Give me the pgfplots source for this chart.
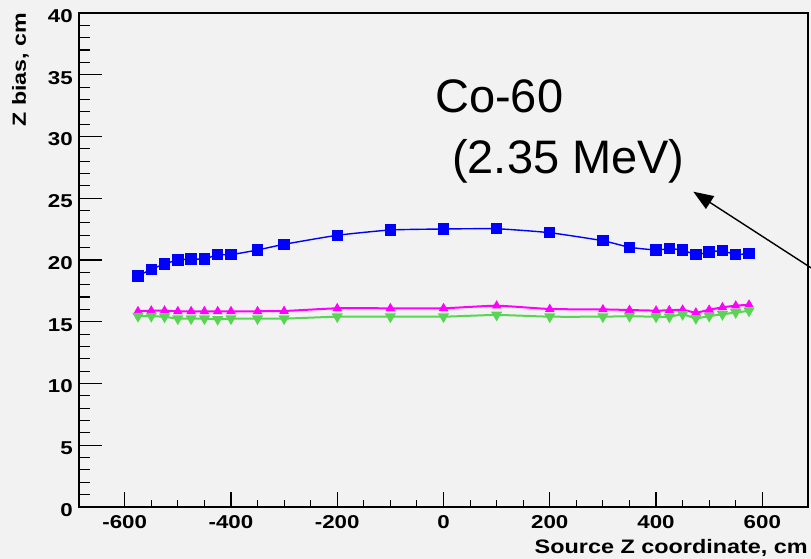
\documentclass[border=0pt]{standalone}
\usepackage{fontspec}
\setmainfont{Liberation Sans}
\usepackage{pgfplots}
\pgfplotsset{compat=1.18}
\usetikzlibrary{arrows.meta}
\definecolor{bg}{HTML}{F2F2F2}
\definecolor{rblue}{HTML}{0000FF}
\definecolor{rmag}{HTML}{FF00FF}
\definecolor{rgreen}{HTML}{59D454}
\newcommand{\tfont}{\fontsize{18.6}{20}\selectfont\bfseries}
\begin{document}
\begin{tikzpicture}
\fill[bg] (-79pt,-52pt) rectangle (732pt,507pt);
\begin{axis}[
  scale only axis, width=729pt, height=494pt,
  at={(0pt,0pt)}, anchor=south west,
  xmin=-686, xmax=686, ymin=0, ymax=40,
  axis line style={line width=1.2pt, black},
  tick align=inside, tick pos=left,
  xtick={-600,-400,...,600}, ytick={0,5,...,40},
  minor x tick num=3, minor y tick num=4,
  xtick style={line width=1.1pt, black, /pgfplots/major tick length=14.7pt, /pgfplots/minor tick length=7.3pt},
  ytick style={line width=1.1pt, black, /pgfplots/major tick length=22.7pt, /pgfplots/minor tick length=11.3pt},
  /pgf/number format/assume math mode=true,
  xticklabel={\scalebox{1.2}[1]{\tfont\pgfmathprintnumber{\tick}}},
  yticklabel={\scalebox{1.2}[1]{\tfont\pgfmathprintnumber{\tick}}},
  xticklabel style={anchor=north, inner sep=0pt},
  yticklabel style={anchor=east, inner sep=0pt, yshift=-3pt},
  xticklabel shift=8pt, yticklabel shift=6pt,
  axis background/.style={fill=bg},
]
\addplot[rblue, line width=1.4pt, smooth, tension=0.3, mark=square*, mark size=5pt, mark options={solid, fill=rblue}] coordinates {
(-575,18.70) (-550,19.25) (-525,19.68) (-500,20.00) (-475,20.08) (-450,20.08) (-425,20.43) (-400,20.43) (-350,20.81) (-300,21.27) (-200,22.00) (-100,22.43) (0,22.51) (100,22.53) (200,22.21) (300,21.56) (350,21.03) (400,20.81) (425,20.91) (450,20.81) (475,20.43) (500,20.65) (525,20.75) (550,20.43) (575,20.54)};
\addplot[rmag, line width=2pt, smooth, tension=0.3, mark=triangle*, mark size=3.5pt, mark options={solid, fill=rmag}] coordinates {
(-575,15.85) (-550,15.90) (-525,15.90) (-500,15.85) (-475,15.85) (-450,15.85) (-425,15.85) (-400,15.85) (-350,15.85) (-300,15.87) (-200,16.09) (-100,16.09) (0,16.09) (100,16.30) (200,16.03) (300,16.00) (350,15.95) (400,15.90) (425,15.93) (450,15.97) (475,15.74) (500,15.97) (525,16.17) (550,16.30) (575,16.38)};
\addplot[rgreen, line width=2pt, smooth, tension=0.3, mark=triangle*, mark size=4.5pt, mark options={solid, fill=rgreen, rotate=180}] coordinates {
(-575,15.45) (-550,15.45) (-525,15.40) (-500,15.25) (-475,15.25) (-450,15.25) (-425,15.20) (-400,15.25) (-350,15.25) (-300,15.25) (-200,15.41) (-100,15.41) (0,15.41) (100,15.55) (200,15.41) (300,15.41) (350,15.45) (400,15.40) (425,15.40) (450,15.60) (475,15.28) (500,15.46) (525,15.60) (550,15.75) (575,15.88)};
\end{axis}
\node[anchor=base east, rotate=90, inner sep=0pt] at (-53pt,494pt) {\scalebox{1.22}[1]{\fontsize{19}{20}\selectfont\bfseries Z bias, cm}};
\node[anchor=base east, inner sep=0pt] at (729pt,-47pt) {\scalebox{1.2}[1]{\fontsize{19.5}{20}\selectfont\bfseries Source Z coordinate, cm}};
\node[anchor=base west, inner sep=0pt] at (356pt,394.7pt) {\fontsize{47}{50}\selectfont Co-60};
\node[anchor=base west, inner sep=0pt] at (373pt,333.7pt) {\fontsize{47}{50}\selectfont (2.35 MeV)};
\draw[line width=1.4pt, -{Triangle[length=20pt,width=15pt]}] (740pt,234pt) -- (614.3pt,315.3pt);
\pgfresetboundingbox
\path (-79pt,-52pt) rectangle (732pt,507pt);
\end{tikzpicture}
\end{document}
